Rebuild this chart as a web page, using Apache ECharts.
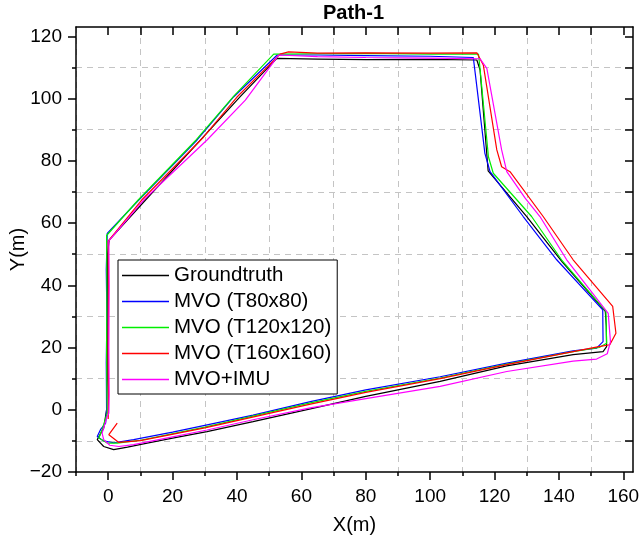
<!DOCTYPE html>
<html>
<head>
<meta charset="utf-8">
<title>Path-1</title>
<script src="https://cdn.jsdelivr.net/npm/echarts@6/dist/echarts.min.js"></script>
<style>
html, body { margin: 0; padding: 0; background: #fff; }
#chart { width: 641px; height: 539px; }
</style>
</head>
<body>
<div id="chart"></div>
<script>
// trajectories, [x, y] in metres
var gtPath = [
  [-1.4, -11.8], [1.7, -12.8], [6, -12.0], [12.1, -10.7], [20, -9.1], [30.7, -7.0], [45, -3.8],
  [62.8, 0.3], [80, 4.3], [103.1, 9.1], [123.8, 14.1], [144.4, 17.7], [153.7, 18.7], [154.8, 20.3],
  [154.7, 27], [154.4, 31.6], [141, 47.5], [130, 62.1], [118, 76.8], [115.5, 109.2], [114.5, 112.4],
  [100, 112.6], [80, 112.5], [65, 112.7], [52.4, 112.9], [41, 100.6], [28.7, 86.7], [11.6, 67.4],
  [0.3, 54.5], [-0.2, 50], [-0.3, 30], [-0.3, 10], [-0.5, 0], [-1.4, -5.9], [-3.4, -9.6], [-1.4, -11.8]
];
var mvo80Path = [
  [-1.5, -10.0], [1.7, -10.6], [7.9, -9.6], [20, -7.2], [30, -5.0], [45, -1.7], [62.8, 2.6],
  [80, 6.4], [103.1, 10.6], [123.8, 15.0], [144.4, 18.9], [151.7, 19.8], [153.7, 21.9], [153.6, 32.1],
  [139.3, 48.2], [128.9, 62.1], [118.6, 76.5], [117, 82.4], [114, 108.1], [113.4, 113.2],
  [100, 113.6], [80, 113.8], [65, 114], [52.5, 114], [39, 100.6], [27.6, 86.7], [9.5, 67.4],
  [-0.3, 56.7], [-0.6, 45], [-0.4, 30], [-0.6, 15], [-0.5, 0], [-0.8, -4.3], [-2.4, -6.4],
  [-3.4, -8.6], [-1.5, -10.0]
];
var mvo120Path = [
  [-0.3, -10.7], [2.8, -10.7], [10, -9.8], [30, -5.6], [62.8, 2.2], [80, 5.9], [103.1, 10.2],
  [123.8, 14.7], [144.4, 18.7], [152.5, 20.0], [154.8, 21.4], [154.6, 31.6], [140.8, 48.2],
  [131.5, 62.1], [119.6, 76], [118.1, 81.3], [115.5, 109.5], [115, 114.3], [100, 114.3],
  [80, 114.5], [65, 114.4], [51.4, 114.3], [39, 100.8], [27.3, 86.7], [9.3, 67.4], [-0.5, 56],
  [-0.4, 40], [-0.5, 20], [-0.4, 5], [-0.3, -1.1], [-1.9, -6.4], [-2.9, -9.1], [-0.3, -10.7]
];
var mvo160Path = [
  [2.8, -4.3], [0.2, -8.0], [3.3, -10.5], [10, -9.9], [30, -5.8], [62.8, 1.8], [80, 5.6],
  [103.1, 10.0], [123.8, 14.5], [144.4, 18.7], [152, 20.2], [155.8, 20.9], [157.7, 24.6],
  [156.7, 33.2], [144.4, 48.2], [135.1, 62.1], [124.8, 76.5], [122.2, 78.1], [120.7, 83.5],
  [116.5, 110.8], [114.5, 114.7], [100, 114.6], [80, 114.7], [65, 114.6], [56, 115], [53.4, 114.3],
  [40, 100.5], [29.5, 87.5], [10.4, 67.4], [0, 54.2], [0.1, 40], [0, 20], [0.1, 5], [0, -3]
];
var imuPath = [
  [-1.4, -9.6], [0.5, -11.4], [3.3, -11.8], [7.9, -11.2], [20, -8.7], [30.7, -6.5], [45, -3.2],
  [62.8, 0.6], [80, 3.6], [103.1, 7.5], [123.8, 12.3], [144.4, 15.6], [151.7, 16.3], [155, 18],
  [156, 21.9], [155.3, 31.0], [142.4, 48.2], [134.1, 62.1], [129.5, 68], [123.8, 76.5],
  [122.2, 83.5], [117.6, 109.7], [115.5, 112.8], [100, 113], [80, 113.2], [65, 113.5], [53, 114],
  [51.4, 111.8], [42.6, 99.5], [30.7, 86.7], [11, 67.4], [0.2, 54.3], [0.3, 40], [0.2, 20],
  [0.3, 5], [0.2, -1.1], [-0.3, -2.1], [-1.9, -7.5], [-1.4, -9.6]
];

var seriesNames = ['Groundtruth', 'MVO (T80x80)', 'MVO (T120x120)', 'MVO (T160x160)', 'MVO+IMU'];
var seriesColors = ['#000000', '#0000ff', '#00ee00', '#ff0000', '#ff00ff'];
var seriesPaths = [gtPath, mvo80Path, mvo120Path, mvo160Path, imuPath];

var xMajorTicks = [0, 20, 40, 60, 80, 100, 120, 140, 160];
var xMinorTicks = [-10, 10, 30, 50, 70, 90, 110, 130, 150];
var xTopTicks = [0, 10, 20, 30, 40, 50, 60, 70, 80, 90, 100, 110, 120, 130, 140, 150, 160];
var yMajorTicks = [-20, 0, 20, 40, 60, 80, 100, 120];
var yMinorTicks = [-10, 10, 30, 50, 70, 90, 110];
var yRightTicks = [-10, 0, 10, 20, 30, 40, 50, 60, 70, 80, 90, 100, 110, 120];

var FONT = 'Liberation Sans, Arial, sans-serif';
var frameLine = { color: '#000', width: 1.5 };
var gridDash = { type: [6, 5], color: '#c4c4c4', width: 1 };

function baseAxis(extra) {
  var a = {
    type: 'value',
    axisLine: { show: false, onZero: false, lineStyle: frameLine },
    axisTick: { show: false },
    axisLabel: { show: false },
    splitLine: { show: false }
  };
  for (var k in extra) a[k] = extra[k];
  return a;
}

function minusLabel(v) {
  return String(v).replace('-', '\u2212');
}

var xRange = { min: -10, max: 163 };
var yRange = { min: -20, max: 123 };

var chart = echarts.init(document.getElementById('chart'), null, { renderer: 'canvas' });

var series = [];
for (var i = 0; i < seriesPaths.length; i++) {
  series.push({
    name: seriesNames[i],
    type: 'line',
    xAxisIndex: 0,
    yAxisIndex: 0,
    data: seriesPaths[i],
    symbol: 'none',
    smooth: false,
    lineStyle: { color: seriesColors[i], width: 1.2 },
    itemStyle: { color: seriesColors[i] }
  });
}

chart.setOption({
  animation: false,
  backgroundColor: '#fff',
  textStyle: { fontFamily: FONT },
  title: {
    text: 'Path-1',
    left: 323,
    top: 3,
    padding: 0,
    textStyle: { fontFamily: FONT, fontSize: 20, fontWeight: 'bold', color: '#000' }
  },
  grid: { left: 76, right: 8, top: 27, bottom: 67, containLabel: false, outerBoundsMode: 'none' },
  legend: {
    data: seriesNames,
    orient: 'vertical',
    left: 118,
    top: 260,
    padding: [5, 6, 4, 4],
    icon: 'rect',
    itemWidth: 47,
    itemHeight: 1.3,
    itemGap: 5,
    backgroundColor: '#fff',
    borderColor: '#000',
    borderWidth: 1,
    borderRadius: 0,
    textStyle: { fontFamily: FONT, fontSize: 20.5, color: '#000', lineHeight: 20 }
  },
  xAxis: [
    baseAxis({
      position: 'bottom', min: xRange.min, max: xRange.max,
      axisLine: { show: true, onZero: false, lineStyle: frameLine },
      axisTick: { show: true, length: 8, customValues: xMajorTicks, lineStyle: frameLine },
      axisLabel: { show: true, customValues: xMajorTicks, fontSize: 19, color: '#000', margin: 15, fontFamily: FONT, formatter: minusLabel },
      name: 'X(m)', nameLocation: 'middle', nameGap: 43,
      nameTextStyle: { fontSize: 20, color: '#000', fontFamily: FONT }
    }),
    baseAxis({
      position: 'bottom', min: xRange.min, max: xRange.max,
      axisTick: { show: true, length: 4, customValues: xMinorTicks, lineStyle: frameLine },
      splitLine: { show: true, lineStyle: gridDash }
    }),
    baseAxis({
      position: 'top', min: xRange.min, max: xRange.max,
      axisLine: { show: true, onZero: false, lineStyle: frameLine },
      axisTick: { show: true, inside: true, length: 8, customValues: xTopTicks, lineStyle: frameLine }
    })
  ],
  yAxis: [
    baseAxis({
      position: 'left', min: yRange.min, max: yRange.max,
      axisLine: { show: true, onZero: false, lineStyle: frameLine },
      axisTick: { show: true, length: 8, customValues: yMajorTicks, lineStyle: frameLine },
      axisLabel: { show: true, customValues: yMajorTicks, fontSize: 19, color: '#000', margin: 14, fontFamily: FONT, formatter: minusLabel },
      name: 'Y(m)', nameLocation: 'middle', nameGap: 48, nameRotate: 90, nameMoveOverlap: false,
      nameTextStyle: { fontSize: 20, color: '#000', fontFamily: FONT }
    }),
    baseAxis({
      position: 'left', min: yRange.min, max: yRange.max,
      axisTick: { show: true, length: 4, customValues: yMinorTicks, lineStyle: frameLine },
      splitLine: { show: true, lineStyle: gridDash }
    }),
    baseAxis({
      position: 'right', min: yRange.min, max: yRange.max,
      axisLine: { show: true, onZero: false, lineStyle: frameLine },
      axisTick: { show: true, inside: true, length: 8, customValues: yRightTicks, lineStyle: frameLine }
    })
  ],
  series: series
});
</script>
</body>
</html>
